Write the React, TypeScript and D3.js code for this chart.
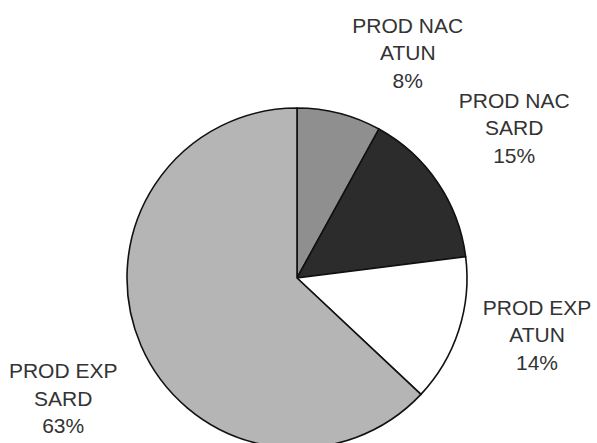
import React, { useEffect, useRef } from "react";
import * as d3 from "d3";

const categories = ["PROD NAC ATUN", "PROD NAC SARD", "PROD EXP ATUN", "PROD EXP SARD"];
const labelLines = [
  ["PROD NAC", "ATUN"],
  ["PROD NAC", "SARD"],
  ["PROD EXP", "ATUN"],
  ["PROD EXP", "SARD"],
];
const values = [8, 15, 14, 63];
const colors = ["#8f8f8f", "#2c2c2c", "#ffffff", "#b5b5b5"];

interface Slice {
  name: string;
  lines: string[];
  value: number;
  color: string;
}

const App: React.FC = () => {
  const svgRef = useRef<SVGSVGElement>(null);

  useEffect(() => {
    if (!svgRef.current) return;
    const width = 597;
    const height = 443;
    const cx = 297;
    const cy = 278;
    const radius = 170;

    const svg = d3.select(svgRef.current);
    svg.selectAll("*").remove();

    const data: Slice[] = categories.map((name, i) => ({
      name,
      lines: labelLines[i],
      value: values[i],
      color: colors[i],
    }));

    const pie = d3
      .pie<Slice>()
      .sort(null)
      .value((d) => d.value);
    const arcs = pie(data);

    const arc = d3.arc<d3.PieArcDatum<Slice>>().innerRadius(0).outerRadius(radius);
    const anchorArc = d3
      .arc<d3.PieArcDatum<Slice>>()
      .innerRadius(radius + 14)
      .outerRadius(radius + 14);

    const g = svg.append("g").attr("transform", `translate(${cx},${cy})`);

    g.selectAll("path.slice")
      .data(arcs)
      .join("path")
      .attr("class", "slice")
      .attr("d", arc)
      .attr("fill", (d) => d.data.color)
      .attr("stroke", "#111")
      .attr("stroke-width", 1.6)
      .attr("stroke-linejoin", "round");

    const lineH = 27.5;
    const offX = 65;
    const offY = 47;

    arcs.forEach((d) => {
      const [ax, ay] = anchorArc.centroid(d);
      const mid = (d.startAngle + d.endAngle) / 2;
      const s = Math.sin(mid);
      const c = Math.cos(mid);
      const fx = Math.sign(s);
      const fy = Math.abs(c) > 0.35 ? -Math.sign(c) : 0;
      const lx = ax + fx * offX;
      const ly = ay + fy * offY;
      const text = g
        .append("text")
        .attr("text-anchor", "middle")
        .attr("font-family", "Liberation Sans, Arial, sans-serif")
        .attr("font-size", 21)
        .attr("fill", "#333");
      const lines = [...d.data.lines, `${d.data.value}%`];
      lines.forEach((t, i) => {
        text
          .append("tspan")
          .attr("x", lx)
          .attr("y", ly + (i - 1) * lineH + 7.5)
          .text(t);
      });
    });

    svg.attr("width", width).attr("height", height);
  }, []);

  return (
    <svg
      ref={svgRef}
      width={597}
      height={443}
      style={{ position: "absolute", left: 0, top: 0, background: "#fff" }}
    />
  );
};

export default App;
